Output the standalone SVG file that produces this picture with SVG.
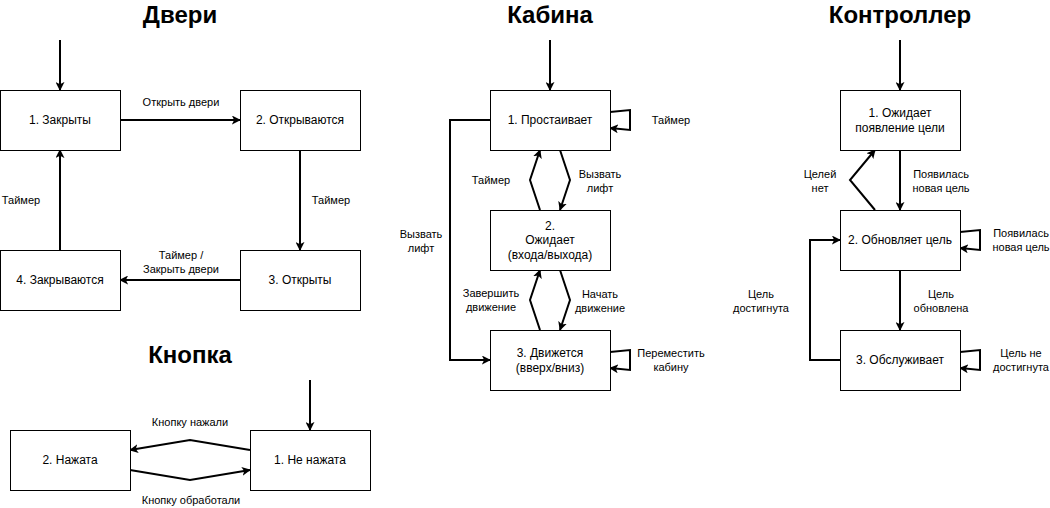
<svg xmlns="http://www.w3.org/2000/svg" width="1050" height="508" viewBox="0 0 1050 508">
<defs>
<marker id="arr" viewBox="0 0 10 10" refX="9" refY="5" markerWidth="4.5" markerHeight="4.5" orient="auto" markerUnits="strokeWidth">
<path d="M0,0 L10,5 L0,10 L2.5,5 Z" fill="#000"/>
</marker>
</defs>
<style>
.box{fill:#fff;stroke:#000;stroke-width:1}
.t{font-family:"Liberation Sans",Arial,sans-serif;font-size:12px;fill:#000;text-anchor:middle}
.l{font-family:"Liberation Sans",Arial,sans-serif;font-size:11px;fill:#000;text-anchor:middle}
.h{font-family:"Liberation Sans",Arial,sans-serif;font-size:24px;font-weight:bold;fill:#000;text-anchor:middle}
.e{fill:none;stroke:#000;stroke-width:2;marker-end:url(#arr)}
</style>
<rect width="1050" height="508" fill="#fff"/>
<g id="titles">
<text class="h" x="180" y="23">Двери</text>
<text class="h" x="550" y="23">Кабина</text>
<text class="h" x="900" y="23">Контроллер</text>
<text class="h" x="190" y="363">Кнопка</text>
</g>
<g id="connectors">
<!-- Doors -->
<path class="e" d="M60,40 L60,90"/>
<path class="e" d="M120,120 L240,120"/>
<path class="e" d="M300,150 L300,250"/>
<path class="e" d="M240,280 L120,280"/>
<path class="e" d="M60,250 L60,150"/>
<!-- Cabin -->
<path class="e" d="M550,40 L550,90"/>
<path class="e" d="M610,112 L630,110 L630,130 L610,128"/>
<path class="e" d="M560,150 L570,180 L560,210"/>
<path class="e" d="M540,210 L530,180 L540,150"/>
<path class="e" d="M560,270 L570,300 L560,330"/>
<path class="e" d="M540,330 L530,300 L540,270"/>
<path class="e" d="M490,120 L450,120 L450,360 L490,360"/>
<path class="e" d="M610,352 L630,350 L630,370 L610,368"/>
<!-- Controller -->
<path class="e" d="M900,40 L900,90"/>
<path class="e" d="M900,150 L900,210"/>
<path class="e" d="M875,210 L850,180 L875,150"/>
<path class="e" d="M900,270 L900,330"/>
<path class="e" d="M840,360 L810,360 L810,240 L840,240"/>
<path class="e" d="M960,232 L980,230 L980,250 L960,248"/>
<path class="e" d="M960,352 L980,350 L980,370 L960,368"/>
<!-- Button -->
<path class="e" d="M310,380 L310,430"/>
<path class="e" d="M250,450 L190,440 L130,450"/>
<path class="e" d="M130,470 L190,480 L250,470"/>
</g>
<g id="labels">
<text class="l" x="181" y="106">Открыть двери</text>
<text class="l" x="331" y="204">Таймер</text>
<text class="l" x="181" y="259">Таймер /</text>
<text class="l" x="181" y="273">Закрыть двери</text>
<text class="l" x="21" y="204">Таймер</text>
<text class="l" x="491" y="184">Таймер</text>
<text class="l" x="600" y="178">Вызвать</text>
<text class="l" x="600" y="192">лифт</text>
<text class="l" x="491" y="297">Завершить</text>
<text class="l" x="491" y="311">движение</text>
<text class="l" x="600" y="298">Начать</text>
<text class="l" x="600" y="312">движение</text>
<text class="l" x="671" y="124">Таймер</text>
<text class="l" x="671" y="357">Переместить</text>
<text class="l" x="671" y="371">кабину</text>
<text class="l" x="421" y="238">Вызвать</text>
<text class="l" x="421" y="252">лифт</text>
<text class="l" x="820" y="178">Целей</text>
<text class="l" x="820" y="192">нет</text>
<text class="l" x="941" y="178">Появилась</text>
<text class="l" x="941" y="192">новая цель</text>
<text class="l" x="941" y="298">Цель</text>
<text class="l" x="941" y="312">обновлена</text>
<text class="l" x="761" y="298">Цель</text>
<text class="l" x="761" y="312">достигнута</text>
<text class="l" x="1021" y="237">Появилась</text>
<text class="l" x="1021" y="251">новая цель</text>
<text class="l" x="1021" y="357">Цель не</text>
<text class="l" x="1021" y="371">достигнута</text>
<text class="l" x="190" y="426">Кнопку нажали</text>
<text class="l" x="191" y="504">Кнопку обработали</text>
</g>
<g id="door1"><rect class="box" x="0.5" y="90.5" width="120" height="60"/><text class="t" x="60" y="124">1. Закрыты</text></g>
<g id="door2"><rect class="box" x="240.5" y="90.5" width="120" height="60"/><text class="t" x="300" y="124">2. Открываются</text></g>
<g id="door3"><rect class="box" x="240.5" y="250.5" width="120" height="60"/><text class="t" x="300" y="284">3. Открыты</text></g>
<g id="door4"><rect class="box" x="0.5" y="250.5" width="120" height="60"/><text class="t" x="60" y="284">4. Закрываются</text></g>
<g id="cab1"><rect class="box" x="490.5" y="90.5" width="120" height="60"/><text class="t" x="550" y="124">1. Простаивает</text></g>
<g id="cab2"><rect class="box" x="490.5" y="210.5" width="120" height="60"/><text class="t" x="550" y="230">2.</text><text class="t" x="550" y="244">Ожидает</text><text class="t" x="550" y="259">(входа/выхода)</text></g>
<g id="cab3"><rect class="box" x="490.5" y="330.5" width="120" height="60"/><text class="t" x="550" y="357">3. Движется</text><text class="t" x="550" y="372">(вверх/вниз)</text></g>
<g id="ctl1"><rect class="box" x="840.5" y="90.5" width="120" height="60"/><text class="t" x="900" y="117">1. Ожидает</text><text class="t" x="900" y="132">появление цели</text></g>
<g id="ctl2"><rect class="box" x="840.5" y="210.5" width="120" height="60"/><text class="t" x="900" y="244">2. Обновляет цель</text></g>
<g id="ctl3"><rect class="box" x="840.5" y="330.5" width="120" height="60"/><text class="t" x="900" y="364">3. Обслуживает</text></g>
<g id="btn2"><rect class="box" x="10.5" y="430.5" width="120" height="60"/><text class="t" x="70" y="464">2. Нажата</text></g>
<g id="btn1"><rect class="box" x="250.5" y="430.5" width="120" height="60"/><text class="t" x="310" y="464">1. Не нажата</text></g>
</svg>
